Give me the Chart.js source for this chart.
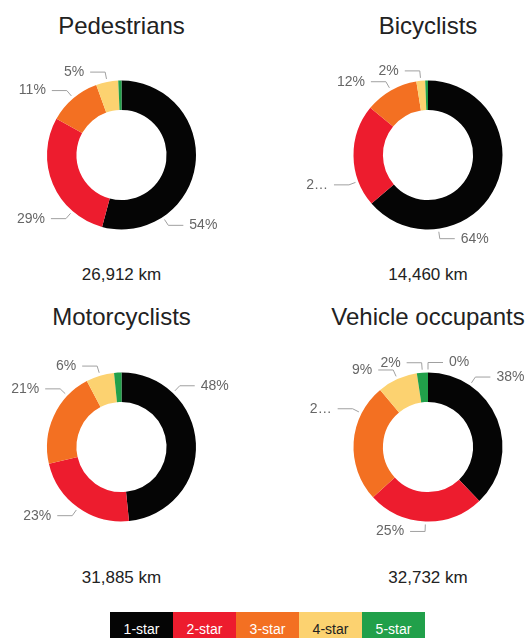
<!DOCTYPE html>
<html>
<head>
<meta charset="utf-8">
<script src="https://cdn.jsdelivr.net/npm/chart.js@4/dist/chart.umd.min.js"></script>
<style>
  html, body { margin: 0; padding: 0; background: #fff; }
  body { width: 529px; height: 638px; position: relative; overflow: hidden;
         font-family: "Liberation Sans", Arial, sans-serif; }
  canvas { position: absolute; }
  .title { position: absolute; width: 264px; text-align: center; font-size: 24px;
           line-height: 24px; color: #222; white-space: nowrap; }
  .km { position: absolute; width: 264px; text-align: center; font-size: 17px;
        line-height: 17px; color: #222; white-space: nowrap; }
  .legend { position: absolute; left: 110px; top: 612px; display: flex; }
  .legend div { width: 63px; height: 34px; line-height: 34px; text-align: center;
                font-size: 14px; }
</style>
</head>
<body>
<script>
// ---- data ----
const categories = ['1-star', '2-star', '3-star', '4-star', '5-star'];
const colors = ['#050505', '#ed1c2e', '#f37022', '#fcd270', '#21a04a'];
const chartTitles = ['Pedestrians', 'Bicyclists', 'Motorcyclists', 'Vehicle occupants'];
const pedestrians = [54.2, 28.9, 11.4, 4.8, 0.7];
const bicyclists = [63.7, 22.2, 11.6, 1.9, 0.6];
const motorcyclists = [48.4, 23.0, 20.9, 6.1, 1.6];
const vehicleOccupants = [37.9, 25.3, 25.7, 8.7, 2.4, 0];
const totalKm = [26912, 14460, 31885, 32732];

// ---- label placement (fraction along each slice where its leader line starts; null = no label) ----
const labelAnchors = [
  [0.75, 0.25, 0.5, 0.5, null],
  [0.75, 0.25, 0.5, 0.5, null],
  [0.25, 0.5, 0.75, 0.5, null],
  [0.25, 0.5, 0.75, 0.5, 0.5, 0.5]
];

// ---- layout ----
const cells = [
  { left: 0,   top: 45,  w: 264, h: 220, cx: 121.5, cy: 110, r: 74.5, titleY: 14, kmY: 266, minX: 6 },
  { left: 264, top: 45,  w: 265, h: 220, cx: 164,   cy: 110, r: 74.5, titleY: 14, kmY: 266, minX: 40 },
  { left: 0,   top: 337, w: 264, h: 220, cx: 121.5, cy: 110, r: 74.5, titleY: 305, kmY: 569, minX: 6 },
  { left: 264, top: 337, w: 265, h: 220, cx: 164,   cy: 110, r: 74.5, titleY: 305, kmY: 569, minX: 40 }
];
const seriesList = [pedestrians, bicyclists, motorcyclists, vehicleOccupants];

function fitText(ctx, text, avail) {
  if (ctx.measureText(text).width <= avail) return text;
  for (let n = text.length - 1; n > 0; n--) {
    const t = text.slice(0, n) + '\u2026';
    if (ctx.measureText(t).width <= avail) return t;
  }
  return '\u2026';
}

const leaderPlugin = {
  id: 'leaders',
  afterDatasetsDraw(chart, args, opts) {
    const ctx = chart.ctx;
    const meta = chart.getDatasetMeta(0);
    const data = chart.data.datasets[0].data;
    const total = data.reduce((a, b) => a + b, 0);
    ctx.save();
    ctx.font = '14px "Liberation Sans", Arial, sans-serif';
    meta.data.forEach((arc, i) => {
      const f = opts.anchors[i];
      if (f == null) return;
      const p = arc.getProps(['x', 'y', 'startAngle', 'endAngle', 'outerRadius'], true);
      const a = p.startAngle + f * (p.endAngle - p.startAngle);
      const c = Math.cos(a), s = Math.sin(a);
      const ax = p.x + (p.outerRadius + 3) * c, ay = p.y + (p.outerRadius + 3) * s;
      const ex = ax + 7 * c, ey = ay + 7 * s;
      const left = c < -0.01;
      const dir = left ? -1 : 1;
      const hx = ex + dir * 15;
      ctx.strokeStyle = '#a0a0a0';
      ctx.lineWidth = 1;
      ctx.beginPath();
      ctx.moveTo(ax, ay); ctx.lineTo(ex, ey); ctx.lineTo(hx, ey);
      ctx.stroke();
      const tx = hx + dir * 6;
      const avail = left ? tx - opts.minX : chart.width - 2 - tx;
      const text = fitText(ctx, Math.round(data[i] / total * 100) + '%', avail);
      ctx.fillStyle = '#666666';
      ctx.textAlign = left ? 'right' : 'left';
      ctx.textBaseline = 'middle';
      ctx.fillText(text, tx, ey);
    });
    ctx.restore();
  }
};

cells.forEach((cell, k) => {
  const cv = document.createElement('canvas');
  cv.width = cell.w; cv.height = cell.h;
  cv.style.left = cell.left + 'px'; cv.style.top = cell.top + 'px';
  cv.style.width = cell.w + 'px'; cv.style.height = cell.h + 'px';
  document.body.appendChild(cv);

  const t = document.createElement('div');
  t.className = 'title';
  t.textContent = chartTitles[k];
  t.style.left = (cell.left + cell.cx - 132) + 'px';
  t.style.top = cell.titleY + 'px';
  document.body.appendChild(t);

  const km = document.createElement('div');
  km.className = 'km';
  km.textContent = totalKm[k].toLocaleString('en-US') + ' km';
  km.style.left = (cell.left + cell.cx - 132) + 'px';
  km.style.top = cell.kmY + 'px';
  document.body.appendChild(km);

  const vals = seriesList[k];
  const labels = vals.map((v, i) => categories[i] || '');
  new Chart(cv, {
    type: 'doughnut',
    data: {
      labels: labels,
      datasets: [{
        data: vals,
        backgroundColor: vals.map((v, i) => colors[i] || '#cccccc'),
        borderWidth: 0
      }]
    },
    options: {
      responsive: false,
      animation: false,
      cutout: '60.5%',
      layout: {
        padding: {
          left: cell.cx - cell.r,
          right: cell.w - cell.cx - cell.r,
          top: cell.cy - cell.r,
          bottom: cell.h - cell.cy - cell.r
        }
      },
      plugins: {
        legend: { display: false },
        tooltip: { enabled: false },
        leaders: { anchors: labelAnchors[k], minX: cell.minX }
      }
    },
    plugins: [leaderPlugin]
  });
});

// legend
const lg = document.createElement('div');
lg.className = 'legend';
categories.forEach((c, i) => {
  const d = document.createElement('div');
  d.textContent = c;
  d.style.background = colors[i];
  const hex = colors[i].slice(1);
  const r = parseInt(hex.slice(0, 2), 16), g = parseInt(hex.slice(2, 4), 16), b = parseInt(hex.slice(4, 6), 16);
  const lum = 0.299 * r + 0.587 * g + 0.114 * b;
  d.style.color = lum > 180 ? '#222' : '#fff';
  lg.appendChild(d);
});
document.body.appendChild(lg);
</script>
</body>
</html>
